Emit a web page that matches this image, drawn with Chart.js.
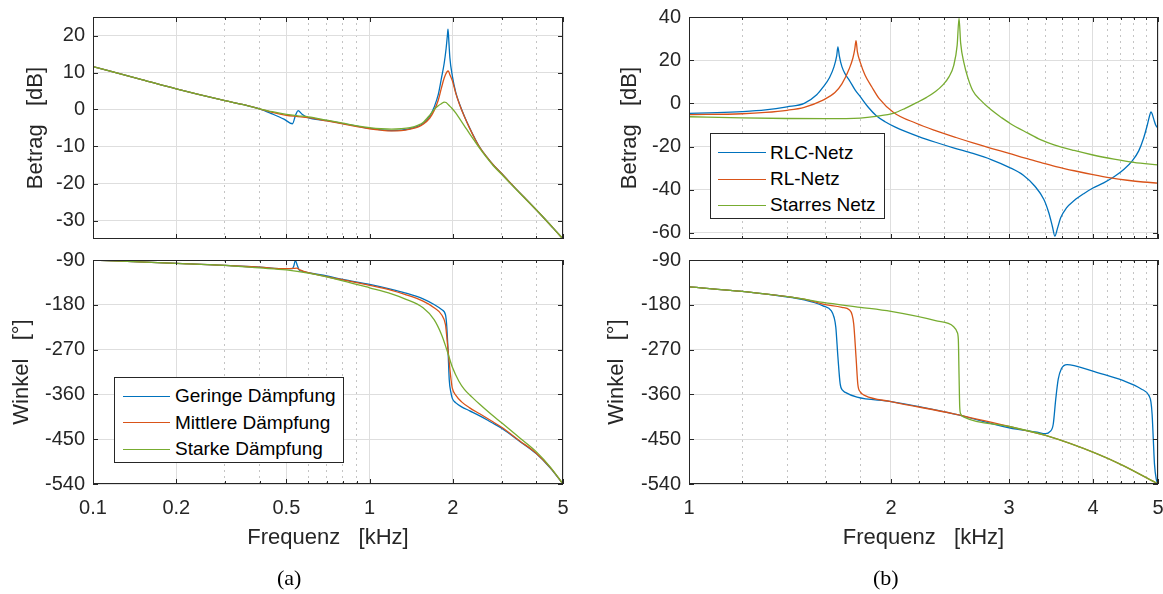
<!DOCTYPE html>
<html>
<head>
<meta charset="utf-8">
<script src="https://cdn.jsdelivr.net/npm/chart.js"></script>
<style>
  body { margin: 0; background: #fff; width: 1163px; height: 594px; position: relative; overflow: hidden;
         font-family: "Liberation Sans", Arial, sans-serif; color: #000; }
  canvas { position: absolute; }
  .leg { position: absolute; border: 1px solid #262626; background: #fff; box-sizing: border-box; }
  .leg .row { position: absolute; left: 0; height: 26px; line-height: 26px; font-size: 19px; white-space: nowrap; }
  .leg .ln { position: absolute; height: 1.3px; top: 12.5px; }
  .cap { position: absolute; font-family: "Liberation Serif", "Times New Roman", serif; font-size: 22px; }
</style>
</head>
<body>
<canvas id="magA" width="580" height="250" style="left:0;top:0"></canvas>
<canvas id="phA" width="580" height="344" style="left:0;top:250px"></canvas>
<canvas id="magB" width="583" height="250" style="left:580px;top:0"></canvas>
<canvas id="phB" width="583" height="344" style="left:580px;top:250px"></canvas>
<div class="cap" style="left:277px;top:565px">(a)</div>
<div class="cap" style="left:873px;top:565px">(b)</div>
<script>
// (a) Dämpfungsvarianten, 0.1 .. 5 kHz
const labelsA = ['Geringe Dämpfung', 'Mittlere Dämpfung', 'Starke Dämpfung'];

const fMagGer = [0.1,0.15,0.2,0.3,0.35,0.4,0.445,0.49,0.526,0.54,0.551,0.57,0.594,0.7,0.8,0.9,1.0,1.1,1.2,1.3,1.4,1.5,1.56,1.65,1.71,1.77,1.82,1.86,1.89,1.91,1.92,1.935,1.95,1.99,2.05,2.12,2.2,2.3,2.4,2.5,2.65,2.8,3.0,3.2,3.5,4.0,4.3,4.6,5.0];
const magGer  = [11.6,8.1,5.6,2.4,1.3,0.2,-1.2,-2.6,-3.85,-1.5,-0.3,-1.3,-2.1,-3.0,-3.8,-4.5,-5.1,-5.5,-5.7,-5.6,-5.2,-4.5,-3.8,-1.8,0.6,4.0,8.7,12.5,16.5,20,21.7,18,14,9.1,4.5,1.2,-1.8,-5.0,-7.8,-10.2,-12.8,-15.0,-17.3,-19.6,-22.6,-27.1,-29.6,-32.0,-35];
const fMagMit = [0.1,0.15,0.2,0.3,0.35,0.4,0.445,0.5,0.55,0.6,0.7,0.8,0.9,1.0,1.1,1.2,1.3,1.4,1.5,1.56,1.65,1.71,1.77,1.82,1.86,1.9,1.925,1.95,1.99,2.05,2.12,2.2,2.3,2.4,2.5,2.65,2.8,3.0,3.2,3.5,4.0,4.3,4.6,5.0];
const magMit  = [11.6,8.1,5.6,2.4,1.3,0.2,-0.8,-1.6,-1.9,-2.2,-3.1,-3.9,-4.6,-5.2,-5.6,-5.8,-5.7,-5.3,-4.7,-4.0,-2.3,-0.3,2.5,6.0,8.5,10.1,10.4,9.4,7.8,4.3,1.1,-1.9,-5.1,-7.9,-10.2,-12.8,-15.0,-17.3,-19.6,-22.6,-27.1,-29.6,-32.0,-35];
const fMagSta = [0.1,0.15,0.2,0.3,0.35,0.4,0.445,0.5,0.55,0.6,0.7,0.8,0.9,1.0,1.1,1.2,1.3,1.4,1.5,1.56,1.65,1.71,1.77,1.82,1.86,1.89,1.93,1.99,2.05,2.12,2.2,2.3,2.4,2.5,2.65,2.8,3.0,3.2,3.5,4.0,4.3,4.6,5.0];
const magSta  = [11.6,8.1,5.6,2.4,1.3,0.2,-0.6,-1.3,-1.7,-2.0,-2.9,-3.7,-4.4,-4.9,-5.2,-5.3,-5.2,-4.9,-4.2,-3.5,-1.5,0,1.0,1.6,2.0,1.9,1.2,0.2,-1.0,-2.6,-4.4,-6.6,-8.6,-10.5,-13.0,-15.2,-17.5,-19.7,-22.7,-27.1,-29.6,-32.0,-35];

const fPhGer = [0.1,0.2,0.3,0.4,0.5,0.525,0.532,0.539,0.547,0.556,0.565,0.6,0.7,0.8,1.0,1.2,1.34,1.56,1.71,1.82,1.88,1.9,1.92,1.94,1.97,1.99,2.05,2.15,2.3,2.5,2.75,3.0,3.5,4.0,4.5,5.0];
const phGer  = [-90,-96.7,-100.8,-104.5,-107.5,-107.5,-102,-91,-100,-110,-112,-115.6,-122,-129,-139,-149,-156,-168,-179.5,-189.5,-200,-223,-270,-331,-358,-368,-377,-385,-393,-403,-416,-428,-455,-479,-508,-540];
const fPhMit = [0.1,0.2,0.3,0.4,0.5,0.53,0.545,0.56,0.6,0.8,1.0,1.2,1.34,1.56,1.71,1.82,1.88,1.9,1.93,1.97,1.99,2.05,2.15,2.3,2.5,2.75,3.0,3.5,4.0,4.5,5.0];
const phMit  = [-90,-96.7,-100.8,-104.5,-107.5,-107,-106.5,-110,-115.6,-130,-141,-151,-159,-172.7,-186,-200,-220,-243,-284,-331,-347.6,-362,-375,-387,-399,-413,-426,-454,-478,-507,-540];
const fPhSta = [0.1,0.2,0.3,0.4,0.5,0.6,0.8,1.0,1.2,1.34,1.56,1.71,1.82,1.9,1.99,2.1,2.2,2.35,2.5,2.75,3.0,3.5,4.0,4.5,5.0];
const phSta  = [-90,-96.7,-101,-106,-110,-116.5,-131.7,-145.8,-158,-168,-186,-209.7,-240,-270,-305,-333,-350,-366,-380,-400,-417,-448,-475,-506,-540];

// (b) Netzvarianten, 1 .. 5 kHz
const labelsB = ['RLC-Netz', 'RL-Netz', 'Starres Netz'];

const fMagRlc = [1.0,1.1,1.2,1.3,1.4,1.485,1.55,1.584,1.62,1.645,1.66,1.667,1.675,1.69,1.71,1.733,1.77,1.8,1.85,1.9,1.96,2.03,2.1,2.2,2.33,2.485,2.65,2.82,3.0,3.15,3.28,3.38,3.44,3.48,3.51,3.54,3.58,3.65,3.75,3.88,4.0,4.15,4.3,4.45,4.58,4.68,4.76,4.82,4.86,4.88,4.9,4.93,4.96,5.0];
const magRlc  = [-4.6,-4.3,-3.8,-3.0,-1.6,0,4,7.5,12,17,22,26.2,22,17,13.5,10.8,6,3.1,-1.8,-5.6,-8.5,-11,-13,-15.4,-18,-20.7,-23.2,-26.0,-29.6,-33.3,-38.5,-44.5,-51,-57,-61.5,-58,-53,-48.5,-45,-41.7,-39.2,-36.8,-34.0,-30.5,-26.5,-22,-16,-10,-5.5,-3.9,-4.8,-7.5,-10,-11.5];
const fMagRl  = [1.0,1.2,1.3,1.4,1.485,1.584,1.65,1.69,1.733,1.755,1.766,1.774,1.782,1.8,1.83,1.872,1.921,2.02,2.18,2.33,2.5,2.65,2.82,3.0,3.17,3.34,3.55,3.75,4.0,4.25,4.5,4.75,5.0];
const magRl   = [-5.2,-4.8,-4.2,-3.2,-1.8,1.5,5,9,16,21,25,29,24,19,13,7.7,2.2,-4.3,-9.2,-12.6,-15.8,-18.3,-20.8,-23.2,-25.4,-27.3,-29.5,-31.2,-33.0,-34.5,-35.6,-36.4,-36.9];
const fMagSt  = [1.0,1.2,1.4,1.6,1.8,1.9,2.02,2.1,2.18,2.26,2.33,2.39,2.44,2.48,2.51,2.526,2.54,2.57,2.6,2.646,2.72,2.82,2.92,3.01,3.2,3.34,3.5,3.75,4.0,4.3,4.6,5.0];
const magSt   = [-6.2,-6.7,-7.0,-7.1,-6.8,-6.0,-4.5,-2.3,0.2,2.8,5.5,8.6,12.3,17.5,27,39.5,28,18.5,12.5,6.1,1.5,-3.0,-6.5,-9.3,-13.8,-16.8,-19.2,-21.8,-23.9,-25.8,-27.3,-28.5];

const fPhRlc = [1.0,1.2,1.306,1.485,1.584,1.63,1.645,1.655,1.667,1.68,1.695,1.71,1.78,2.0,2.48,3.0,3.3,3.4,3.45,3.49,3.52,3.55,3.59,3.66,3.75,4.05,4.43,4.72,4.85,4.88,4.9,4.92,4.94,4.97,5.0];
const phRlc  = [-144,-153,-158.6,-170,-182,-192,-205,-225,-285,-339,-352,-356,-365.7,-374.4,-399,-427,-436,-439,-435,-420,-370,-330,-308,-300,-302,-315.6,-332,-349,-363,-375,-400,-450,-500,-530,-540];
const fPhRl  = [1.0,1.2,1.306,1.485,1.584,1.69,1.733,1.75,1.76,1.774,1.785,1.8,1.83,2.0,2.48,3.0,3.4,4.05,4.43,5.0];
const phRl   = [-144,-153,-158.6,-168.6,-178.7,-185,-190,-200,-218.7,-285.5,-340,-355,-362.4,-374.4,-399,-424.5,-442.5,-479,-502.6,-540];
const fPhSt  = [1.0,1.2,1.306,1.485,1.584,1.8,2.0,2.33,2.48,2.51,2.52,2.526,2.532,2.54,2.57,3.0,3.4,4.05,4.43,5.0];
const phSt   = [-144,-153,-158.6,-168.6,-175.3,-185,-193.4,-212,-224,-235,-250,-319,-385,-399,-405.8,-424.5,-442.5,-479,-502.6,-540];

// axis ticks
const xMajorA = [0.1, 0.2, 0.5, 1, 2, 5];
const xMinorA = [0.3, 0.4, 0.6, 0.7, 0.8, 0.9, 3, 4];
const xMajorB = [1, 2, 3, 4, 5];
const xMinorB = [1.2, 1.4, 1.6, 1.8, 2.2, 2.4, 2.6, 2.8, 3.2, 3.4, 3.6, 3.8, 4.2, 4.4, 4.6, 4.8];
const magTicksA = [-30, -20, -10, 0, 10, 20];
const magTicksB = [-60, -40, -20, 0, 20, 40];
const phTicks = [-540, -450, -360, -270, -180, -90];

const COLORS = ['#0072BD', '#D95319', '#77AC30'];
const TXT = '#262626';
const FONT = '"Liberation Sans", Arial, sans-serif';

// box round the plot area plus inward tick marks (MATLAB look)
const frame = {
  id: 'frame',
  afterDraw(chart, args, opts) {
    const {ctx, chartArea: a} = chart;
    const x = chart.scales.x, y = chart.scales.y;
    ctx.save();
    ctx.strokeStyle = TXT;
    ctx.lineWidth = 1;
    ctx.beginPath();
    x.ticks.forEach(t => {
      const px = Math.round(x.getPixelForValue(t.value)) + 0.5;
      const len = opts.major.includes(t.value) ? 5 : 3;
      ctx.moveTo(px, a.bottom); ctx.lineTo(px, a.bottom - len);
      ctx.moveTo(px, a.top); ctx.lineTo(px, a.top + len);
    });
    y.ticks.forEach(t => {
      const py = Math.round(y.getPixelForValue(t.value)) + 0.5;
      ctx.moveTo(a.left, py); ctx.lineTo(a.left + 5, py);
      ctx.moveTo(a.right, py); ctx.lineTo(a.right - 5, py);
    });
    ctx.stroke();
    ctx.strokeRect(a.left + 0.5, a.top + 0.5, a.width - 1, a.height - 1);
    ctx.restore();
  }
};

function pts(fs, ys) { return fs.map((f, i) => ({x: f, y: ys[i]})); }

function makeChart(id, c) {
  const allX = c.xMajor.concat(c.xMinor).sort((p, q) => p - q);
  const isMinor = ctx => ctx.tick && !c.xMajor.includes(ctx.tick.value);
  return new Chart(document.getElementById(id), {
    type: 'line',
    data: {
      datasets: c.series.map((s, i) => ({
        label: s.label,
        data: pts(s.f, s.y),
        borderColor: COLORS[i],
        borderWidth: 1.3,
        pointRadius: 0,
        fill: false,
        cubicInterpolationMode: 'monotone',
        order: 3 - i
      }))
    },
    options: {
      responsive: false,
      animation: false,
      events: [],
      layout: {padding: c.pad},
      plugins: {legend: {display: false}, tooltip: {enabled: false}, frame: {major: c.xMajor}},
      scales: {
        x: {
          type: 'logarithmic', min: c.xMin, max: c.xMax,
          afterBuildTicks: s => { s.ticks = allX.map(v => ({value: v})); },
          afterFit: s => { s.height = c.xH; s.paddingLeft = 0; s.paddingRight = 0; },
          ticks: {display: c.xLabels, autoSkip: false, maxRotation: 0, padding: 12, color: TXT,
                  font: {family: FONT, size: 20},
                  callback: v => c.xMajor.includes(v) ? String(v) : ''},
          grid: {drawTicks: false, lineWidth: 1, color: ctx => isMinor(ctx) ? '#c4c4c4' : '#dedede'},
          border: {display: false, dash: ctx => isMinor(ctx) ? [2, 4] : []},
          title: {display: c.xLabels, text: 'Frequenz   [kHz]', color: TXT,
                  font: {family: FONT, size: 22}, padding: {top: 0, bottom: 43}}
        },
        y: {
          min: c.yMin, max: c.yMax,
          afterBuildTicks: s => { s.ticks = c.yTicks.map(v => ({value: v})); },
          afterFit: s => { s.width = c.yW; s.paddingTop = 0; s.paddingBottom = 0; },
          ticks: {padding: 8, color: TXT, font: {family: FONT, size: 20}},
          grid: {drawTicks: false, lineWidth: 1, color: '#dedede'},
          border: {display: false},
          title: {display: true, text: c.yTitle, color: TXT,
                  font: {family: FONT, size: 22}, padding: {top: c.yTitlePad, bottom: 0}}
        }
      }
    },
    plugins: [frame]
  });
}

makeChart('magA', {
  series: [{label: labelsA[0], f: fMagGer, y: magGer}, {label: labelsA[1], f: fMagMit, y: magMit}, {label: labelsA[2], f: fMagSta, y: magSta}],
  xMajor: xMajorA, xMinor: xMinorA, xMin: 0.1, xMax: 5, xLabels: false, xH: 0,
  yMin: -35, yMax: 25, yTicks: magTicksA, yTitle: 'Betrag   [dB]', yW: 93, yTitlePad: 23,
  pad: {top: 17, left: 0, right: 17, bottom: 11}
});
makeChart('phA', {
  series: [{label: labelsA[0], f: fPhGer, y: phGer}, {label: labelsA[1], f: fPhMit, y: phMit}, {label: labelsA[2], f: fPhSta, y: phSta}],
  xMajor: xMajorA, xMinor: xMinorA, xMin: 0.1, xMax: 5, xLabels: true, xH: 110,
  yMin: -540, yMax: -90, yTicks: phTicks, yTitle: 'Winkel   [°]', yW: 93, yTitlePad: 9,
  pad: {top: 10, left: 0, right: 17, bottom: 0}
});
makeChart('magB', {
  series: [{label: labelsB[0], f: fMagRlc, y: magRlc}, {label: labelsB[1], f: fMagRl, y: magRl}, {label: labelsB[2], f: fMagSt, y: magSt}],
  xMajor: xMajorB, xMinor: xMinorB, xMin: 1, xMax: 5, xLabels: false, xH: 0,
  yMin: -62.8, yMax: 40, yTicks: magTicksB, yTitle: 'Betrag   [dB]', yW: 109, yTitlePad: 37,
  pad: {top: 17, left: 0, right: 5, bottom: 11}
});
makeChart('phB', {
  series: [{label: labelsB[0], f: fPhRlc, y: phRlc}, {label: labelsB[1], f: fPhRl, y: phRl}, {label: labelsB[2], f: fPhSt, y: phSt}],
  xMajor: xMajorB, xMinor: xMinorB, xMin: 1, xMax: 5, xLabels: true, xH: 110,
  yMin: -540, yMax: -90, yTicks: phTicks, yTitle: 'Winkel   [°]', yW: 109, yTitlePad: 24,
  pad: {top: 10, left: 0, right: 5, bottom: 0}
});

// legends as HTML boxes inside the plots
function legend(labels, box, lineX, textX, rowTop) {
  const d = document.createElement('div');
  d.className = 'leg';
  Object.assign(d.style, {left: box[0] + 'px', top: box[1] + 'px', width: box[2] + 'px', height: box[3] + 'px'});
  labels.forEach((t, i) => {
    const r = document.createElement('div');
    r.className = 'row';
    r.style.top = rowTop[i] + 'px';
    r.style.width = '100%';
    const ln = document.createElement('span');
    ln.className = 'ln';
    Object.assign(ln.style, {left: lineX[0] + 'px', width: (lineX[1] - lineX[0]) + 'px', background: COLORS[i]});
    const tx = document.createElement('span');
    tx.textContent = t;
    tx.style.position = 'absolute';
    tx.style.left = textX + 'px';
    r.appendChild(ln); r.appendChild(tx);
    d.appendChild(r);
  });
  document.body.appendChild(d);
}
legend(labelsA, [114, 377, 230, 86], [8, 55], 60, [5, 31.5, 58]);
legend(labelsB, [710, 133, 175, 86], [7, 55], 59, [5.5, 32, 58]);
</script>
</body>
</html>
